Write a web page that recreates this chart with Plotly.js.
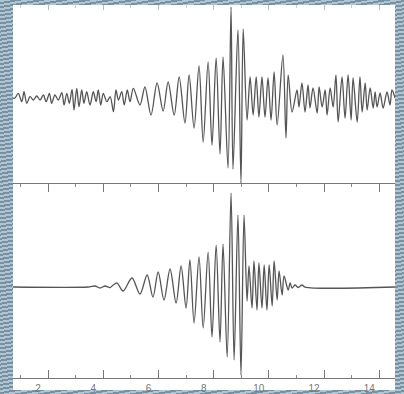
<!DOCTYPE html>
<html>
<head>
<meta charset="utf-8">
<script src="https://cdn.plot.ly/plotly-3.0.1.min.js"></script>
<style>
html,body{margin:0;padding:0;}
body{width:404px;height:394px;overflow:hidden;
background: repeating-linear-gradient(-10deg,#afc5d3 0px,#afc5d3 2px,#7891a1 2px,#7891a1 4px);}
#chart{width:404px;height:394px;}
</style>
</head>
<body>
<div id="chart"></div>
<script>
// Upper trace (observed record): time in s, amplitude (arbitrary units)
const topTime = [0.73,0.80,0.92,1.05,1.13,1.23,1.35,1.47,1.59,1.71,1.83,1.93,2.05,2.13,2.25,2.37,2.50,2.58,2.68,2.77,2.87,2.94,3.04,3.12,3.22,3.30,3.40,3.52,3.64,3.74,3.82,3.91,4.00,4.13,4.25,4.37,4.46,4.55,4.67,4.76,4.87,4.97,5.09,5.33,5.51,5.73,5.95,6.17,6.35,6.57,6.75,6.96,7.11,7.29,7.47,7.62,7.80,7.94,8.09,8.23,8.34,8.52,8.63,8.70,8.88,8.99,9.07,9.21,9.32,9.43,9.54,9.64,9.75,9.86,9.97,10.08,10.19,10.30,10.51,10.62,10.70,10.84,11.02,11.09,11.20,11.31,11.42,11.49,11.60,11.75,11.82,11.93,12.04,12.11,12.22,12.33,12.43,12.51,12.65,12.76,12.87,12.98,13.05,13.20,13.30,13.38,13.49,13.56,13.67,13.78,13.85,13.92,14.03,14.14,14.28,14.39,14.46,14.57];
const topAmp = [0.0,0.0,0.47,-0.37,0.63,-0.53,0.13,-0.2,0.2,-0.2,0.3,-0.37,0.47,-0.53,0.3,-0.2,0.53,-0.7,0.47,-0.53,0.87,-1.2,0.97,-0.87,0.8,-0.53,0.63,-0.7,0.63,-0.37,0.8,-0.7,0.47,-0.37,0.13,-1.37,0.8,-0.2,0.63,-0.7,0.8,-0.37,0.97,-0.7,1.1,-1.7,1.5,-1.3,1.6,-1.7,2.1,-2.5,2.3,-3.0,3.2,-4.4,3.6,-4.7,4.0,-5.6,4.1,-7.0,9.1,-7.1,6.8,-8.5,6.9,-2.2,2.1,-1.7,2.1,-1.9,2.1,-1.9,2.0,-2.2,2.6,-2.7,4.3,-4.0,2.3,-1.4,0.8,-0.9,1.5,-1.4,1.3,-1.0,1.0,-1.5,1.1,-0.9,0.8,-1.7,1.0,-0.9,2.3,-2.4,2.1,-2.0,2.3,-2.2,2.0,-2.4,2.1,-1.4,1.5,-1.2,1.0,-1.0,0.6,-0.9,0.5,-1.0,0.6,-0.7,0.8,0.0];

// Lower trace (synthetic record)
const botTime = [0.73,3.45,3.70,3.88,4.07,4.25,4.36,4.50,4.72,5.04,5.33,5.59,5.80,5.99,6.20,6.42,6.64,6.82,7.00,7.14,7.29,7.47,7.62,7.80,7.94,8.09,8.23,8.34,8.49,8.63,8.74,8.88,8.99,9.10,9.21,9.28,9.39,9.46,9.57,9.64,9.75,9.83,9.93,10.01,10.12,10.19,10.30,10.37,10.48,10.55,10.70,10.77,10.84,10.95,11.06,11.20,11.31,14.57];
const botAmp = [0,0,0.1,-0.1,0.1,-0.05,0.2,0.4,-0.4,0.9,-0.7,1.2,-1.0,1.5,-1.3,1.8,-1.6,2.1,-2.1,2.7,-3.6,3.0,-4.1,3.5,-5.0,4.2,-5.5,4.3,-7.0,9.4,-7.3,7.2,-8.8,7.2,-1.4,2.1,-2.1,2.6,-2.3,2.4,-2.1,2.2,-2.3,2.2,-1.9,2.6,-1.3,1.6,-0.8,1.1,-0.3,0.4,-0.1,0.2,-0.05,0.2,0,0];

const tickVals = [2,4,6,8,10,12,14];
const tickText = ['2','4','6','8','10','12','14'];

const lineStyle = {color:'#555555', width:1.3, shape:'spline', smoothing:0.9};

const data = [
  {x: topTime, y: topAmp, xaxis:'x2', yaxis:'y2', type:'scatter', mode:'lines', line: lineStyle, hoverinfo:'skip'},
  {x: botTime, y: botAmp, xaxis:'x', yaxis:'y', type:'scatter', mode:'lines', line: lineStyle, hoverinfo:'skip'}
];

const xr = [0.73, 14.57];
const layout = {
  width:404, height:394,
  margin:{l:13, r:9, t:5, b:16, pad:0},
  paper_bgcolor:'rgba(0,0,0,0)',
  plot_bgcolor:'#ffffff',
  showlegend:false,
  xaxis:{
    domain:[0,1], range:xr, anchor:'y',
    tickmode:'array', tickvals:tickVals, ticktext:tickText,
    ticks:'inside', ticklen:8, tickwidth:1, tickcolor:'#777',
    showline:true, linecolor:'#777', linewidth:1, mirror:'ticks',
    showgrid:false, zeroline:false,
    minor:{dtick:1, tick0:1, ticks:'inside', ticklen:3, tickcolor:'#888', showgrid:false},
    tickfont:{family:'Liberation Sans, Arial, sans-serif', size:10, color:'#777'},
    ticklabelshift:-10, ticklabelstandoff:1
  },
  yaxis:{
    domain:[0,0.52], range:[-9.1,10.3],
    showticklabels:false, ticks:'', showgrid:false, zeroline:false, showline:false
  },
  xaxis2:{
    domain:[0,1], range:xr, anchor:'y2', side:'top',
    tickmode:'array', tickvals:tickVals,
    ticks:'inside', ticklen:5, tickcolor:'#bbb',
    showticklabels:false, showline:false, showgrid:false, zeroline:false,
    minor:{dtick:1, tick0:1, ticks:'inside', ticklen:3, tickcolor:'#ccc', showgrid:false}
  },
  yaxis2:{
    domain:[0.52,1], range:[-8.6,9.3],
    showticklabels:false, ticks:'', showgrid:false, zeroline:false, showline:false
  },
  shapes:[
    {type:'rect', xref:'paper', yref:'paper', x0:0, x1:1, y0:-0.032, y1:1,
     fillcolor:'#ffffff', line:{width:0}, layer:'below'}
  ]
};

Plotly.newPlot('chart', data, layout, {displayModeBar:false, staticPlot:true});
</script>
</body>
</html>
